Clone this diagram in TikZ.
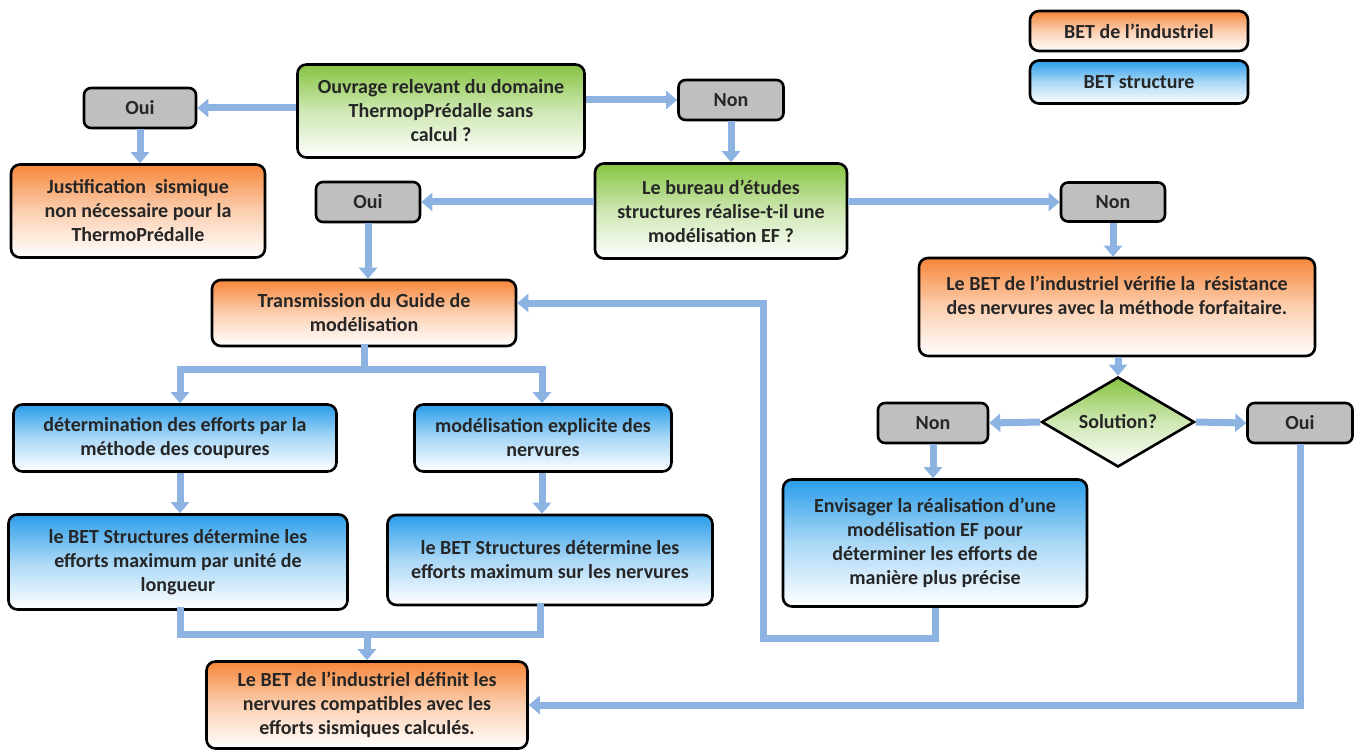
\documentclass[tikz,border=0pt]{standalone}
\usepackage{fontspec}
\setmainfont{Carlito}
\usetikzlibrary{arrows.meta,shapes.geometric}
\definecolor{orangeT}{HTML}{F6873A}
\definecolor{blueT}{HTML}{2A9DEA}
\definecolor{greenT}{HTML}{86C441}
\definecolor{grayF}{HTML}{BFBFBF}
\definecolor{arrowC}{HTML}{8DB3E2}
\definecolor{txt}{HTML}{262626}
\tikzset{
  base/.style={draw=black, line width=2.6pt, rounded corners=9pt, align=center,
    font=\fontsize{20}{24}\selectfont\bfseries, text=txt, inner sep=2pt},
  obox/.style={base, top color=orangeT, bottom color=white, middle color=orangeT!40},
  bbox/.style={base, top color=blueT, bottom color=white, middle color=blueT!40},
  gbox/.style={base, top color=greenT, bottom color=white, middle color=greenT!40},
  graybox/.style={base, fill=grayF, rounded corners=7pt},
  decision/.style={draw=black, line width=2.6pt, shape=diamond, aspect=1.7, inner sep=0pt,
    top color=greenT, bottom color=white, middle color=greenT!40,
    font=\fontsize{20}{24}\selectfont\bfseries, text=txt},
  arr/.style={draw=arrowC, line width=7pt, line join=miter,
    -{Triangle[length=11pt,width=18pt]}},
  conn/.style={draw=arrowC, line width=7pt, line join=miter, line cap=rect},
}
\begin{document}
\begin{tikzpicture}[x=1pt,y=-1pt]
\useasboundingbox[fill=white] (0,0) rectangle (1365,754);

% legend
\node[obox, minimum width=218pt, minimum height=40pt] (leg1) at (1139,31) {BET de l’industriel};
\node[bbox, minimum width=218pt, minimum height=43pt] (leg2) at (1139,82) {BET structure};

% top
\node[gbox, minimum width=287pt, minimum height=93pt] (ouv) at (441,111)
  {Ouvrage relevant du domaine\\ThermopPrédalle sans\\calcul ?};
\node[graybox, minimum width=112pt, minimum height=40pt] (oui1) at (140,108) {Oui};
\node[graybox, minimum width=105pt, minimum height=40pt] (non1) at (731,100) {Non};
\node[obox, minimum width=254pt, minimum height=93pt] (just) at (138,211)
  {Justification\ \ sismique\\non nécessaire pour la\\ThermoPrédalle};
\node[gbox, minimum width=252pt, minimum height=95pt] (bur) at (721,211)
  {Le bureau d’études\\structures réalise-t-il une\\modélisation EF ?};
\node[graybox, minimum width=104pt, minimum height=40pt] (oui2) at (368,202) {Oui};
\node[graybox, minimum width=104pt, minimum height=39pt] (non2) at (1113,202) {Non};

% middle
\node[obox, minimum width=304pt, minimum height=66pt] (trans) at (364,313)
  {Transmission du Guide de\\modélisation};
\node[obox, minimum width=396pt, minimum height=98pt] (verif) at (1117,307)
  {Le BET de l’industriel vérifie la\ \ résistance\\des nervures avec la méthode forfaitaire.\\\mbox{}};
\node[decision, minimum width=153pt, minimum height=90pt] (sol) at (1118,422) {Solution?};
\node[graybox, minimum width=110pt, minimum height=40pt] (non3) at (933,423) {Non};
\node[graybox, minimum width=105pt, minimum height=40pt] (oui3) at (1300,423) {Oui};

% blue boxes
\node[bbox, minimum width=323pt, minimum height=67pt] (det) at (175,438)
  {détermination des efforts par la\\méthode des coupures};
\node[bbox, minimum width=257pt, minimum height=67pt] (mod) at (543,438)
  {modélisation explicite des\\nervures};
\node[bbox, minimum width=339pt, minimum height=95pt] (bets1) at (178,562)
  {le BET Structures détermine les\\efforts maximum par unité de\\longueur};
\node[bbox, minimum width=325pt, minimum height=90pt] (bets2) at (550,560)
  {le BET Structures détermine les\\efforts maximum sur les nervures};
\node[bbox, minimum width=304pt, minimum height=127pt] (env) at (935,543)
  {Envisager la réalisation d’une\\modélisation EF pour\\déterminer les efforts de\\manière plus précise};

% bottom
\node[obox, minimum width=321pt, minimum height=87pt] (final) at (367,705)
  {Le BET de l’industriel définit les\\nervures compatibles avec les\\efforts sismiques calculés.};

% helper coordinates
\coordinate (t1) at (180,369);
\coordinate (t2) at (542,369);
\coordinate (m1) at (180,634);
\coordinate (m2) at (540,634);
\coordinate (lpB) at (763,638);
\coordinate (lpT) at (763,303);

% connectors
\draw[arr] (ouv.west |- oui1) -- (oui1.east);
\draw[arr] (ouv.east |- non1) -- (non1.west);
\draw[arr] (oui1.south) -- (oui1.south |- just.north);
\draw[arr] (non1.south) -- (non1.south |- bur.north);
\draw[arr] (bur.west |- oui2) -- (oui2.east);
\draw[arr] (bur.east |- non2) -- (non2.west);
\draw[arr] (oui2.south) -- (oui2.south |- trans.north);
\draw[arr] (non2.south) -- (non2.south |- verif.north);
\draw[arr] (sol.north |- verif.south) -- (sol.north);
\draw[arr] (sol.west) -- (non3.east);
\draw[arr] (sol.east) -- (oui3.west);
\draw[arr] (non3.south) -- (non3.south |- env.north);

\draw[conn] (trans.south) -- (trans.south |- t1);
\draw[arr] (t2) -- (t1) -- (t1 |- det.north);
\draw[arr] (t1) -- (t2) -- (t2 |- mod.north);
\draw[arr] (t1 |- det.south) -- (t1 |- bets1.north);
\draw[arr] (t2 |- mod.south) -- (t2 |- bets2.north);

\draw[conn] (m1 |- bets1.south) -- (m1) -- (m2) -- (m2 |- bets2.south);
\draw[arr] (final.north |- m1) -- (final.north);

\draw[arr] (env.south) |- (lpB) |- (trans.east |- lpT);
\draw[arr] (oui3.south) |- (final.east);
\end{tikzpicture}
\end{document}
